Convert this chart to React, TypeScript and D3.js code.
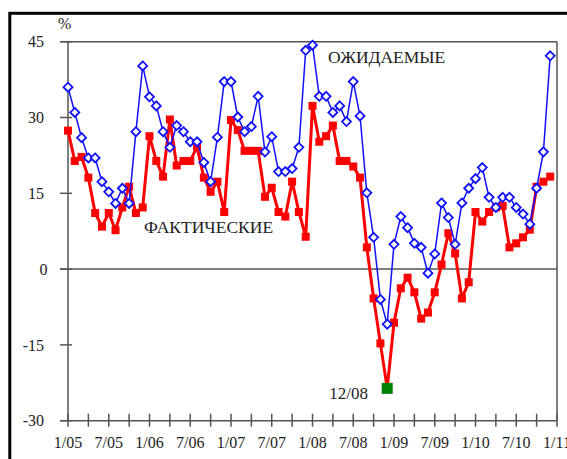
import React from "react";
import * as d3 from "d3";

// Monthly values, 1/05 .. 12/10 (percent)
const expected: number[] = [
  36, 31, 26, 22, 22, 17.3, 15.3, 13, 16, 13,
  27.2, 40.2, 34.1, 32.3, 27.2, 24.1, 28.4, 27.2, 25.2, 25.2,
  21.1, 17.3, 26.1, 37.1, 37.1, 30.1, 27.2, 28.2, 34.2, 23.2,
  26.2, 19.3, 19.3, 19.9, 24.1, 43.3, 44.3, 34.2, 34.2, 31,
  32.3, 29.2, 37.1, 30.3, 15.1, 6.3, -6, -10.9, 4.9, 10.4,
  8.2, 5.1, 4.3, -0.8, 3, 13.1, 10.2, 4.9, 13.1, 16,
  17.9, 20.1, 14.2, 12.2, 14.2, 14.2, 12.2, 10.9, 8.9, 16, 23.2, 42.2,
];

const actual: number[] = [
  27.4, 21.4, 22.2, 18.1, 11.1, 8.4, 11.1, 7.7, 12.2, 16.3,
  11.1, 12.2, 26.3, 21.4, 18.3, 29.6, 20.5, 21.4, 21.4, 24.2,
  18.1, 15.3, 17.3, 11.3, 29.5, 27.5, 23.4, 23.4, 23.4, 14.3,
  16.1, 11.3, 10.4, 17.3, 11.3, 6.4, 32.3, 25.2, 26.3, 28.4,
  21.4, 21.4, 20.3, 18.1, 4.3, -5.8, -14.7, -23.6, -10.6, -3.8,
  -1.7, -4.6, -9.8, -8.6, -4.6, 0.9, 7.1, 3.1, -5.8, -2.6,
  11.3, 9.4, 11.3, 12.2, 12.5, 4.3, 5.1, 6.3, 7.8, 16.3, 17.3, 18.3,
];

const xLabels: string[] = ["1/05", "7/05", "1/06", "7/06", "1/07", "7/07", "1/08", "7/08", "1/09", "7/09", "1/10", "7/10", "1/11"];
const yTicks: number[] = [-30, -15, 0, 15, 30, 45];
const highlightIndex = 47;
const highlightLabel = "12/08";
const expectedLabel = "ОЖИДАЕМЫЕ";
const actualLabel = "ФАКТИЧЕСКИЕ";
const unitLabel = "%";

const W = 567;
const H = 459;
const FONT = '"Liberation Serif", "DejaVu Serif", serif';

export default function App() {
  const x = d3.scaleLinear().domain([0, 72]).range([68, 557]);
  const y = d3.scaleLinear().domain([-30, 45]).range([420.7, 41.7]);

  const line = d3
    .line<number>()
    .x((_, i) => x(i))
    .y((d) => y(d));

  const minorTicks = d3.range(0, 73, 3);
  const axisGrey = "#555";
  const txt = { fontFamily: FONT };

  return (
    <div style={{ position: "absolute", left: 0, top: 0 }}>
      <svg width={W} height={H} style={{ display: "block", background: "#fff", fontFamily: FONT }}>
        {/* outer frame */}
        <rect x={9.8} y={13.3} width={700} height={600} fill="none" stroke="#000" strokeWidth={3} />

        {/* plot frame */}
        <line x1={60} x2={x(72)} y1={y(45)} y2={y(45)} stroke={axisGrey} strokeWidth={1.5} />
        <line x1={x(72)} x2={x(72)} y1={y(45)} y2={y(-30)} stroke={axisGrey} strokeWidth={1.5} />
        <line x1={x(0)} x2={x(0)} y1={y(45)} y2={y(-30)} stroke={axisGrey} strokeWidth={1.5} />
        <line x1={60} x2={x(72)} y1={y(0)} y2={y(0)} stroke={axisGrey} strokeWidth={1.5} />
        <line x1={60} x2={x(72)} y1={y(-30)} y2={y(-30)} stroke={axisGrey} strokeWidth={1.5} />

        {/* y ticks */}
        {yTicks.map((t) => (
          <g key={"yt" + t}>
            <line x1={60} x2={72} y1={y(t)} y2={y(t)} stroke={axisGrey} strokeWidth={1.5} />
            <text x={t === 0 ? 47.5 : 44} y={y(t)} dy="0.36em" textAnchor="end" fontSize={16} fill="#222" style={txt}>
              {t}
            </text>
          </g>
        ))}

        {/* x ticks */}
        {minorTicks.map((m) => (
          <line key={"xt" + m} x1={x(m)} x2={x(m)} y1={y(-30) - 7} y2={y(-30) + 6} stroke={axisGrey} strokeWidth={1.5} />
        ))}
        {xLabels.map((lab, i) => (
          <text key={"xl" + lab} x={x(i * 6)} y={448} textAnchor="middle" fontSize={16} fill="#222" style={txt}>
            {lab}
          </text>
        ))}

        <text x={58} y={29} fontSize={16} fill="#222" style={txt}>
          {unitLabel}
        </text>

        {/* actual series */}
        <path d={line(actual) || ""} fill="none" stroke="#ff0000" strokeWidth={3} strokeLinejoin="round" />
        {actual.map((v, i) =>
          i === highlightIndex ? null : (
            <rect key={"a" + i} x={x(i) - 4} y={y(v) - 4} width={8} height={8} fill="#ff0000" />
          )
        )}

        {/* expected series */}
        <path d={line(expected) || ""} fill="none" stroke="#1010ff" strokeWidth={1.5} />
        {expected.map((v, i) => (
          <path
            key={"e" + i}
            d={`M${x(i)},${y(v) - 4.5}L${x(i) + 4.5},${y(v)}L${x(i)},${y(v) + 4.5}L${x(i) - 4.5},${y(v)}Z`}
            fill="#fff"
            stroke="#1010ff"
            strokeWidth={1.8}
          />
        ))}

        {/* highlight */}
        <rect
          x={x(highlightIndex) - 5.5}
          y={y(actual[highlightIndex]) - 5.5}
          width={11}
          height={11}
          fill="#008000"
        />
        <text x={368} y={399} textAnchor="end" fontSize={17} fill="#222" style={txt}>
          {highlightLabel}
        </text>

        <text x={328} y={63} fontSize={17.5} fill="#222" style={txt}>
          {expectedLabel}
        </text>
        <text x={144} y={233} fontSize={17.5} fill="#222" style={txt}>
          {actualLabel}
        </text>
      </svg>
    </div>
  );
}
